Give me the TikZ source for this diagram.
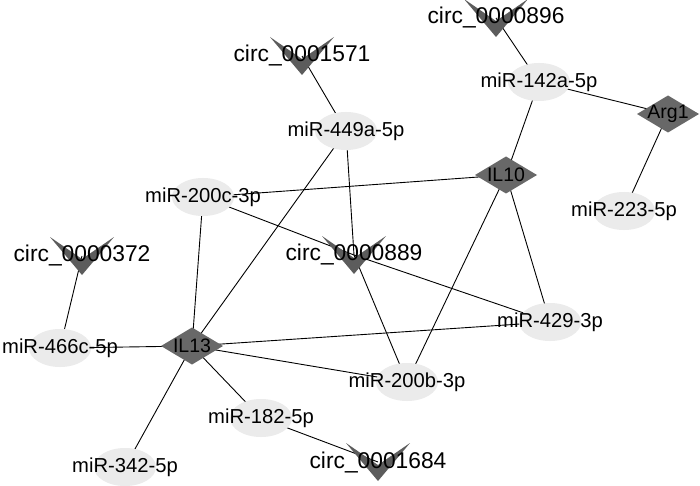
\documentclass[tikz,border=0pt]{standalone}
\usepackage{fontspec}
\setmainfont{Liberation Sans}
\usetikzlibrary{backgrounds}
\definecolor{mirfill}{HTML}{EBEBEB}
\definecolor{circfill}{HTML}{5C5C5C}
\definecolor{genefill}{HTML}{686868}
\tikzset{
  mir/.style={rectangle, inner sep=0pt, minimum width=66pt, minimum height=40pt,
    font=\fontsize{20.2pt}{22pt}\selectfont,
    path picture={\fill[mirfill] (path picture bounding box.center) ellipse [x radius=31pt, y radius=19pt];}},
  circ/.style={rectangle, inner sep=0pt, minimum width=66pt, minimum height=40pt,
    font=\fontsize{22.8pt}{24pt}\selectfont,
    path picture={\fill[circfill] (path picture bounding box.center) ++(-32,-19) -- ++(32,22) -- ++(32,-22) -- ++(-32,38) -- cycle;}},
  gene/.style={rectangle, inner sep=0pt, minimum width=64pt, minimum height=39pt,
    font=\fontsize{19.5pt}{21pt}\selectfont,
    path picture={\fill[genefill] (path picture bounding box.center) ++(-31,0) -- ++(31,-18.5) -- ++(31,18.5) -- ++(-31,18.5) -- cycle;}},
  link/.style={draw=black, line width=0.9pt}
}
\begin{document}
\begin{tikzpicture}[x=1pt,y=-1pt]
\useasboundingbox (0,0) rectangle (700,486);
% circRNAs
\node[circ] (c1571) at (302,56) {circ\_0001571};
\node[circ] (c0896) at (496,18) {circ\_0000896};
\node[circ] (c0372) at (82,256) {circ\_0000372};
\node[circ] (c0889) at (354,255) {circ\_0000889};
\node[circ] (c1684) at (378,462) {circ\_0001684};
% miRNAs
\node[mir] (m449) at (346,131) {miR-449a-5p};
\node[mir] (m142) at (539,82) {miR-142a-5p};
\node[mir] (m200c) at (203,197) {miR-200c-3p};
\node[mir] (m223) at (624,211) {miR-223-5p};
\node[mir] (m466) at (60,348) {miR-466c-5p};
\node[mir] (m429) at (550,322) {miR-429-3p};
\node[mir] (m200b) at (407,382) {miR-200b-3p};
\node[mir] (m182) at (261,418) {miR-182-5p};
\node[mir] (m342) at (125,467) {miR-342-5p};
% genes
\node[gene] (il13) at (192,346) {IL13};
\node[gene] (il10) at (506,175) {IL10};
\node[gene] (arg1) at (668,114) {Arg1};
\begin{scope}[on background layer]
\fill[white] (0,0) rectangle (700,486);
\draw[link] (c1571.center) -- (m449.center);
\draw[link] (c0896.center) -- (m142.center);
\draw[link] (m142.center) -- (arg1.center);
\draw[link] (m142.center) -- (il10.center);
\draw[link] (arg1.center) -- (m223.center);
\draw[link] (m449.center) -- (c0889.center);
\draw[link] (m449.center) -- (il13.center);
\draw[link] (m200c.center) -- (il10.center);
\draw[link] (m200c.center) -- (il13.center);
\draw[link] (m200c.center) -- (c0889.center);
\draw[link] (c0889.center) -- (m429.center);
\draw[link] (c0889.center) -- (m200b.center);
\draw[link] (c0372.center) -- (m466.center);
\draw[link] (m466.center) -- (il13.center);
\draw[link] (il10.center) -- (m429.center);
\draw[link] (il10.center) -- (m200b.center);
\draw[link] (il13.center) -- (m429.center);
\draw[link] (il13.center) -- (m200b.center);
\draw[link] (il13.center) -- (m182.center);
\draw[link] (il13.center) -- (m342.center);
\draw[link] (m182.center) -- (c1684.center);
\end{scope}
\end{tikzpicture}
\end{document}
